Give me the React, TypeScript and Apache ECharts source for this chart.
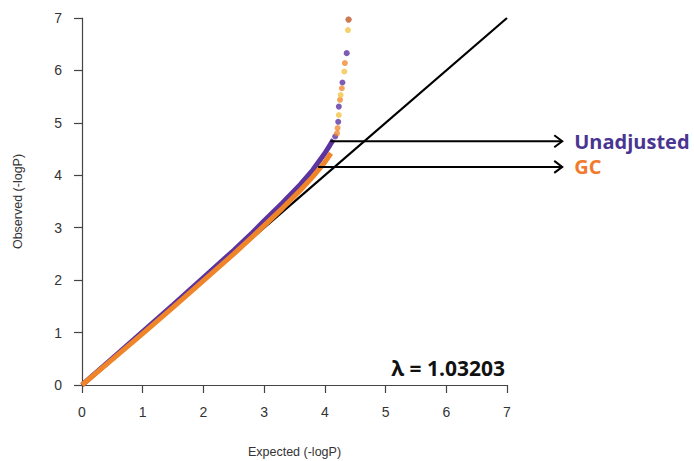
import React, { useEffect, useRef } from 'react';
import * as echarts from 'echarts';

// Expected / observed -logP (dense body of the QQ curve)
const unadjX = [0, 0.5, 1, 1.5, 2, 2.5, 2.8, 3.0, 3.3, 3.6, 3.8, 4.0, 4.14];
const unadjY = [0, 0.51, 1.02, 1.53, 2.05, 2.57, 2.9, 3.13, 3.47, 3.83, 4.1, 4.42, 4.68];
const gcX = [0, 0.5, 1, 1.5, 2, 2.5, 2.8, 3.0, 3.3, 3.6, 3.8, 4.0, 4.1];
const gcY = [0, 0.49, 0.98, 1.48, 1.99, 2.5, 2.82, 3.04, 3.37, 3.72, 3.97, 4.25, 4.42];

// Tail points
const unadjTailX = [4.17, 4.22, 4.23, 4.29, 4.36, 4.39];
const unadjTailY = [4.74, 5.02, 5.31, 5.77, 6.33, 6.97];
const gcTailX = [4.2, 4.21, 4.25, 4.28, 4.33, 4.39];
const gcTailY = [4.8, 4.9, 5.44, 5.66, 6.14, 6.97];
const yellowTailX = [4.23, 4.26, 4.32, 4.38];
const yellowTailY = [5.15, 5.53, 5.98, 6.77];

const ticks = [0, 1, 2, 3, 4, 5, 6, 7];
const lambdaText = 'λ = 1.03203';
const unadjArrowY = 4.65;
const unadjArrowStart = 4.09;
const gcArrowY = 4.16;
const gcArrowStart = 3.89;
const arrowEnd = 7.91;

const PURPLE = '#5b34a0';
const ORANGE = '#f08428';
const YELLOW = '#f4c44a';

const zip = (xs: number[], ys: number[]) => xs.map((x, i) => [x, ys[i]]);

export default function App() {
  const ref = useRef<HTMLDivElement>(null);
  useEffect(() => {
    document.body.style.margin = '0';
    const chart = echarts.init(ref.current!, null, { renderer: 'svg' });
    const axisCommon = {
      type: 'value',
      min: ticks[0],
      max: ticks[ticks.length - 1],
      interval: 1,
      splitLine: { show: false },
      axisLine: { show: true, onZero: false, lineStyle: { color: '#444', width: 1.2 } },
      axisTick: { show: true, length: 8, lineStyle: { color: '#444', width: 1.2 } },
      axisLabel: { color: '#333', fontSize: 14, fontFamily: 'Liberation Sans', margin: 20 },
      nameLocation: 'middle',
      nameTextStyle: { color: '#333', fontSize: 12.5, fontFamily: 'Liberation Sans' },
    };
    chart.setOption({
      animation: false,
      grid: { left: 82, right: 187, top: 18, bottom: 76, outerBoundsMode: 'none', containLabel: false },
      xAxis: { ...axisCommon, name: 'Expected (-logP)', nameGap: 60 },
      yAxis: { ...axisCommon, name: 'Observed (-logP)', nameGap: 58 },
      series: [
        {
          type: 'line',
          data: [[0, 0], [7, 7]],
          symbol: 'none',
          lineStyle: { color: '#000', width: 2.2 },
          z: 1,
        },
        {
          type: 'line',
          data: zip(unadjX, unadjY),
          symbol: 'none',
          lineStyle: { color: PURPLE, width: 5 },
          z: 2,
        },
        {
          type: 'line',
          data: zip(gcX, gcY),
          symbol: 'none',
          lineStyle: { color: ORANGE, width: 5 },
          z: 3,
        },
        {
          type: 'scatter',
          data: zip(unadjTailX, unadjTailY),
          symbolSize: 6,
          itemStyle: { color: PURPLE },
          z: 4,
        },
        {
          type: 'scatter',
          data: zip(gcTailX, gcTailY),
          symbolSize: 6,
          itemStyle: { color: ORANGE, opacity: 0.75 },
          z: 5,
        },
        {
          type: 'scatter',
          data: zip(yellowTailX, yellowTailY),
          symbolSize: 6,
          itemStyle: { color: YELLOW },
          z: 5,
        },
      ],
    });

    const px = (x: number, y: number) => chart.convertToPixel({ gridIndex: 0 }, [x, y]) as number[];
    const arrow = (x0: number, x1: number, y: number) => {
      const a = px(x0, y);
      const b = px(x1, y);
      return [
        { type: 'line', shape: { x1: a[0], y1: a[1], x2: b[0], y2: b[1] }, style: { stroke: '#000', lineWidth: 2 }, z: 10 },
        {
          type: 'polyline',
          shape: { points: [[b[0] - 8, b[1] - 6], [b[0], b[1]], [b[0] - 8, b[1] + 6]] },
          style: { stroke: '#000', lineWidth: 2, fill: 'none' },
          z: 10,
        },
      ];
    };
    const ua = px(arrowEnd, unadjArrowY);
    const ga = px(arrowEnd, gcArrowY);
    const lam = px(7, 0.32);
    chart.setOption({
      graphic: [
        ...arrow(unadjArrowStart, arrowEnd, unadjArrowY),
        ...arrow(gcArrowStart, arrowEnd, gcArrowY),
        {
          type: 'text',
          x: ua[0] + 12,
          y: ua[1],
          style: { text: 'Unadjusted', fill: '#4a3592', font: 'bold 20px "Open Sans"', textVerticalAlign: 'middle' },
          z: 10,
        },
        {
          type: 'text',
          x: ga[0] + 12,
          y: ga[1],
          style: { text: 'GC', fill: '#f07a2e', font: 'bold 20px "Open Sans"', textVerticalAlign: 'middle' },
          z: 10,
        },
        {
          type: 'text',
          x: lam[0] - 2,
          y: lam[1],
          style: { text: lambdaText, fill: '#111', font: 'bold 21px "Open Sans"', textAlign: 'right', textVerticalAlign: 'middle' },
          z: 10,
        },
      ],
    });
    return () => chart.dispose();
  }, []);
  return <div ref={ref} style={{ width: 694, height: 461 }} />;
}
